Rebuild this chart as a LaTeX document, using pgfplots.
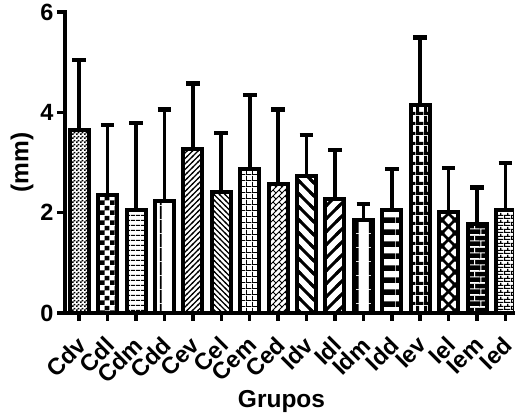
\documentclass[border=0pt]{standalone}
\usepackage{fontspec}
\setmainfont{Liberation Sans}
\usepackage{pgfplots}
\pgfplotsset{compat=1.18}
\usetikzlibrary{patterns}

% ---------- patterns ----------
\pgfdeclarepatternformonly{pchkfine}{\pgfpointorigin}{\pgfqpoint{4pt}{4pt}}{\pgfqpoint{4pt}{4pt}}{%
  \pgfpathrectangle{\pgfpointorigin}{\pgfqpoint{2pt}{2pt}}%
  \pgfpathrectangle{\pgfqpoint{2pt}{2pt}}{\pgfqpoint{2pt}{2pt}}%
  \pgfusepath{fill}}
\pgfdeclarepatternformonly{pchkbig}{\pgfpointorigin}{\pgfqpoint{10pt}{10pt}}{\pgfqpoint{10pt}{10pt}}{%
  \pgfpathrectangle{\pgfpointorigin}{\pgfqpoint{5pt}{5pt}}%
  \pgfpathrectangle{\pgfqpoint{5pt}{5pt}}{\pgfqpoint{5pt}{5pt}}%
  \pgfusepath{fill}}
\pgfdeclarepatternformonly{phlthin}{\pgfpointorigin}{\pgfqpoint{4.5pt}{4.5pt}}{\pgfqpoint{4.5pt}{4.5pt}}{%
  \pgfpathrectangle{\pgfpointorigin}{\pgfqpoint{4.5pt}{1.3pt}}%
  \pgfusepath{fill}}
\pgfdeclarepatternformonly{pvlsparse}{\pgfpointorigin}{\pgfqpoint{14pt}{14pt}}{\pgfqpoint{14pt}{14pt}}{%
  \pgfpathrectangle{\pgfqpoint{6pt}{0pt}}{\pgfqpoint{2pt}{14pt}}%
  \pgfusepath{fill}}
\pgfdeclarepatternformonly{pnethin}{\pgfqpoint{-1pt}{-1pt}}{\pgfqpoint{6.5pt}{6.5pt}}{\pgfqpoint{5.5pt}{5.5pt}}{%
  \pgfsetlinewidth{1.1pt}%
  \pgfpathmoveto{\pgfqpoint{-0.7pt}{-0.7pt}}\pgfpathlineto{\pgfqpoint{6.2pt}{6.2pt}}%
  \pgfusepath{stroke}}
\pgfdeclarepatternformonly{pnwthin}{\pgfqpoint{-1pt}{-1pt}}{\pgfqpoint{6.5pt}{6.5pt}}{\pgfqpoint{5.5pt}{5.5pt}}{%
  \pgfsetlinewidth{1.1pt}%
  \pgfpathmoveto{\pgfqpoint{-0.7pt}{6.2pt}}\pgfpathlineto{\pgfqpoint{6.2pt}{-0.7pt}}%
  \pgfusepath{stroke}}
\pgfdeclarepatternformonly{pgridthin}{\pgfpointorigin}{\pgfqpoint{6pt}{6pt}}{\pgfqpoint{6pt}{6pt}}{%
  \pgfpathrectangle{\pgfpointorigin}{\pgfqpoint{6pt}{1.1pt}}%
  \pgfpathrectangle{\pgfpointorigin}{\pgfqpoint{1.1pt}{6pt}}%
  \pgfusepath{fill}}
\pgfdeclarepatternformonly{pherring}{\pgfqpoint{-1pt}{-1pt}}{\pgfqpoint{7pt}{7pt}}{\pgfqpoint{6pt}{6pt}}{%
  \pgfsetlinewidth{1pt}%
  \pgfpathmoveto{\pgfqpoint{-0.7pt}{-0.7pt}}\pgfpathlineto{\pgfqpoint{6.7pt}{6.7pt}}%
  \pgfpathmoveto{\pgfqpoint{3pt}{3pt}}\pgfpathlineto{\pgfqpoint{6pt}{0pt}}%
  \pgfusepath{stroke}}
\pgfdeclarepatternformonly{pnwthick}{\pgfqpoint{-3pt}{-3pt}}{\pgfqpoint{16pt}{16pt}}{\pgfqpoint{13pt}{13pt}}{%
  \pgfsetlinewidth{3pt}%
  \pgfpathmoveto{\pgfqpoint{-2.5pt}{15.5pt}}\pgfpathlineto{\pgfqpoint{15.5pt}{-2.5pt}}%
  \pgfusepath{stroke}}
\pgfdeclarepatternformonly{pnethick}{\pgfqpoint{-3pt}{-3pt}}{\pgfqpoint{16pt}{16pt}}{\pgfqpoint{13pt}{13pt}}{%
  \pgfsetlinewidth{3pt}%
  \pgfpathmoveto{\pgfqpoint{-2.5pt}{-2.5pt}}\pgfpathlineto{\pgfqpoint{15.5pt}{15.5pt}}%
  \pgfusepath{stroke}}
\pgfdeclarepatternformonly{pvlthick}{\pgfpointorigin}{\pgfqpoint{14pt}{14pt}}{\pgfqpoint{14pt}{14pt}}{%
  \pgfpathrectangle{\pgfqpoint{5pt}{0pt}}{\pgfqpoint{4pt}{14pt}}%
  \pgfusepath{fill}}
\pgfdeclarepatternformonly{phlthick}{\pgfpointorigin}{\pgfqpoint{12pt}{12pt}}{\pgfqpoint{12pt}{12pt}}{%
  \pgfpathrectangle{\pgfpointorigin}{\pgfqpoint{12pt}{6pt}}%
  \pgfusepath{fill}}
\pgfdeclarepatternformonly{pgridthick}{\pgfpointorigin}{\pgfqpoint{8pt}{10pt}}{\pgfqpoint{8pt}{10pt}}{%
  \pgfpathrectangle{\pgfpointorigin}{\pgfqpoint{8pt}{3.5pt}}%
  \pgfpathrectangle{\pgfpointorigin}{\pgfqpoint{3.5pt}{10pt}}%
  \pgfusepath{fill}}
\pgfdeclarepatternformonly{pxthick}{\pgfqpoint{-3pt}{-3pt}}{\pgfqpoint{16pt}{16pt}}{\pgfqpoint{13pt}{13pt}}{%
  \pgfsetlinewidth{2.5pt}%
  \pgfpathmoveto{\pgfqpoint{-2.5pt}{-2.5pt}}\pgfpathlineto{\pgfqpoint{15.5pt}{15.5pt}}%
  \pgfpathmoveto{\pgfqpoint{-2.5pt}{15.5pt}}\pgfpathlineto{\pgfqpoint{15.5pt}{-2.5pt}}%
  \pgfusepath{stroke}}
\pgfdeclarepatterninherentlycolored{pbrickwhite}{\pgfpointorigin}{\pgfqpoint{12pt}{12pt}}{\pgfqpoint{12pt}{12pt}}{%
  \pgfsetfillcolor{black}%
  \pgfpathrectangle{\pgfpointorigin}{\pgfqpoint{12pt}{12pt}}%
  \pgfusepath{fill}%
  \pgfsetstrokecolor{white}%
  \pgfsetlinewidth{1pt}%
  \pgfpathmoveto{\pgfqpoint{0pt}{0.5pt}}\pgfpathlineto{\pgfqpoint{12pt}{0.5pt}}%
  \pgfpathmoveto{\pgfqpoint{0pt}{6.5pt}}\pgfpathlineto{\pgfqpoint{12pt}{6.5pt}}%
  \pgfpathmoveto{\pgfqpoint{1pt}{0.5pt}}\pgfpathlineto{\pgfqpoint{1pt}{6.5pt}}%
  \pgfpathmoveto{\pgfqpoint{7pt}{6.5pt}}\pgfpathlineto{\pgfqpoint{7pt}{12pt}}%
  \pgfusepath{stroke}}
\pgfdeclarepatternformonly{pbricks}{\pgfpointorigin}{\pgfqpoint{7pt}{7pt}}{\pgfqpoint{7pt}{7pt}}{%
  \pgfpathrectangle{\pgfpointorigin}{\pgfqpoint{7pt}{1.2pt}}%
  \pgfpathrectangle{\pgfqpoint{0pt}{3.5pt}}{\pgfqpoint{7pt}{1.2pt}}%
  \pgfpathrectangle{\pgfqpoint{0pt}{0pt}}{\pgfqpoint{1.2pt}{3.5pt}}%
  \pgfpathrectangle{\pgfqpoint{3.5pt}{3.5pt}}{\pgfqpoint{1.2pt}{3.5pt}}%
  \pgfusepath{fill}}

\begin{document}
\begin{tikzpicture}
\useasboundingbox (-65pt,-102pt) rectangle (450pt,313pt);
\begin{axis}[
  at={(0,0)}, anchor=south west,
  scale only axis, width=449pt, height=301pt,
  xmin=-0.5, xmax=15.3, ymin=0, ymax=6,
  axis lines*=left,
  axis line style={line width=4pt, -, line cap=rect},
  tick align=outside,
  major tick length=8pt,
  tick style={line width=3.5pt, black},
  ytick={0,2,4,6},
  xtick={0,...,15},
  xticklabels={Cdv,Cdl,Cdm,Cdd,Cev,Cel,Cem,Ced,Idv,Idl,Idm,Idd,Iev,Iel,Iem,Ied},
  /pgf/number format/assume math mode=true,
  ticklabel style={font=\fontsize{23.5}{27}\selectfont\bfseries},
  xticklabel style={rotate=45, anchor=north east, inner sep=1pt, xshift=-5pt},
  xticklabel shift=9pt,
  label style={font=\fontsize{24.5}{28}\selectfont\bfseries},
  ylabel={(mm)},
  xlabel={Grupos},
  xlabel style={yshift=-1pt, xshift=-8pt},
  ybar, bar width=19pt, bar shift=0pt,
  every axis plot/.append style={draw=black, line width=4pt},
  error bars/y dir=plus, error bars/y explicit,
  error bars/error bar style={line width=3.6pt, black},
  error bars/error mark options={rotate=90, mark size=6.8pt, line width=4.5pt, black},
]
\addplot[pattern=pchkfine]   coordinates {(0,3.65)  +- (0,1.39)};
\addplot[pattern=pchkbig]    coordinates {(1,2.35)  +- (0,1.40)};
\addplot[pattern=phlthin]    coordinates {(2,2.06)  +- (0,1.73)};
\addplot[pattern=pvlsparse]  coordinates {(3,2.23)  +- (0,1.83)};
\addplot[pattern=pnethin]    coordinates {(4,3.27)  +- (0,1.30)};
\addplot[pattern=pnwthin]    coordinates {(5,2.42)  +- (0,1.17)};
\addplot[pattern=pgridthin]  coordinates {(6,2.87)  +- (0,1.48)};
\addplot[pattern=pherring]   coordinates {(7,2.57)  +- (0,1.49)};
\addplot[pattern=pnwthick]   coordinates {(8,2.74)  +- (0,0.81)};
\addplot[pattern=pnethick]   coordinates {(9,2.28)  +- (0,0.97)};
\addplot[pattern=pvlthick]   coordinates {(10,1.86) +- (0,0.31)};
\addplot[pattern=phlthick]   coordinates {(11,2.06) +- (0,0.81)};
\addplot[pattern=pgridthick] coordinates {(12,4.14) +- (0,1.35)};
\addplot[pattern=pxthick]    coordinates {(13,2.01) +- (0,0.88)};
\addplot[pattern=pbrickwhite] coordinates {(14,1.78) +- (0,0.72)};
\addplot[pattern=pbricks]    coordinates {(15,2.05) +- (0,0.94)};
\end{axis}
\end{tikzpicture}
\end{document}
